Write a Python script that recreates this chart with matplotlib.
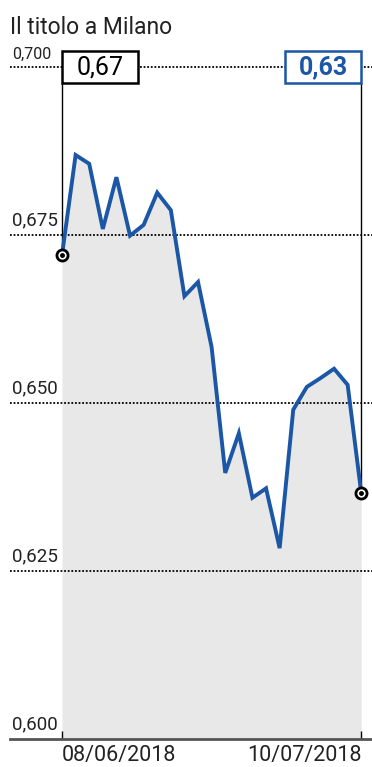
import numpy as np
import matplotlib
matplotlib.use('Agg')
from matplotlib import pyplot as plt
from matplotlib.patches import Rectangle
import matplotlib.transforms as mtransforms

plt.rcParams['font.family'] = ['Roboto', 'DejaVu Sans']

# daily close, Milan, 08/06/2018 -> 10/07/2018
dates = ['08/06/2018', '11/06/2018', '12/06/2018', '13/06/2018', '14/06/2018',
         '15/06/2018', '18/06/2018', '19/06/2018', '20/06/2018', '21/06/2018',
         '22/06/2018', '25/06/2018', '26/06/2018', '27/06/2018', '28/06/2018',
         '29/06/2018', '02/07/2018', '03/07/2018', '04/07/2018', '05/07/2018',
         '06/07/2018', '09/07/2018', '10/07/2018']
prices = [0.6720, 0.6869, 0.6856, 0.6759, 0.6836, 0.6749, 0.6765, 0.6813,
          0.6787, 0.6659, 0.6680, 0.6583, 0.6396, 0.6455, 0.6359, 0.6373,
          0.6284, 0.6490, 0.6524, 0.6537, 0.6551, 0.6527, 0.6366]
yticks = [0.600, 0.625, 0.650, 0.675, 0.700]
ytick_labels = ['0,600', '0,625', '0,650', '0,675', '0,700']
first_label = '0,67'
last_label = '0,63'

blue = '#1b57a6'
W, H = 372, 767

fig = plt.figure(figsize=(W / 100, H / 100), dpi=100)
ax = fig.add_axes([10 / W, (H - 739) / H, 1 - 10 / W, (739 - 67) / H])

x = np.arange(len(prices))
ax.set_xlim(-3.824, 22.79)
ax.set_ylim(0.600, 0.700)

# grid + y labels
ytrans = mtransforms.blended_transform_factory(ax.transAxes, ax.transData)
for v, lab in zip(yticks, ytick_labels):
    if v > 0.600:
        ax.axhline(v, color='black', lw=1.3, ls=(0, (1, 1)), zorder=1, clip_on=False)
    size = 11.5 if v == 0.700 else 13.5
    ax.text(2 / 362, v + 0.0008, lab, transform=ytrans, ha='left', va='bottom',
            fontsize=size, color='#222222', zorder=2)

ax.fill_between(x, prices, 0.600, color='#e8e8e8', lw=0, zorder=0)
ax.plot(x, prices, color=blue, lw=2.8, solid_joinstyle='miter', zorder=4)

# call-out boxes
box_w = 5.59
box_h = 0.00476
for xi, yi, lab, ec, left in [(x[0], prices[0], first_label, 'black', True),
                              (x[-1], prices[-1], last_label, blue, False)]:
    x0 = xi if left else xi - box_w
    ax.vlines(xi, yi, 0.700 - box_h / 2, color='black', lw=1, zorder=3)
    ax.add_patch(Rectangle((x0, 0.700 - box_h / 2), box_w, box_h, fc='white',
                           ec=ec, lw=1.8, zorder=5, clip_on=False))
    ax.text(x0 + box_w / 2, 0.700, lab, ha='center', va='center', fontsize=18,
            color=ec, fontweight='normal' if left else 'bold', zorder=6,
            clip_on=False)
    ax.plot(xi, yi, 'o', ms=8, mfc='white', mec='black', mew=2, zorder=7,
            clip_on=False)
    ax.plot(xi, yi, 'o', ms=2.5, color='black', zorder=8, clip_on=False)

for s in ['top', 'right', 'left']:
    ax.spines[s].set_visible(False)
ax.spines['bottom'].set_color('#555555')
ax.spines['bottom'].set_linewidth(2)
ax.set_yticks([])
ax.set_xticks([x[0], x[-1]])
ax.set_xticklabels([dates[0], dates[-1]], fontsize=15.5, color='#222222')
ax.tick_params(axis='x', direction='in', length=6, width=1, color='black', pad=4)
labs = ax.get_xticklabels()
labs[0].set_ha('left')
labs[1].set_ha('right')

fig.text(10 / W, 1 - 16 / H, 'Il titolo a Milano', ha='left', va='top',
         fontsize=16.5, color='#222222')

fig.savefig('out.png', dpi=100)
